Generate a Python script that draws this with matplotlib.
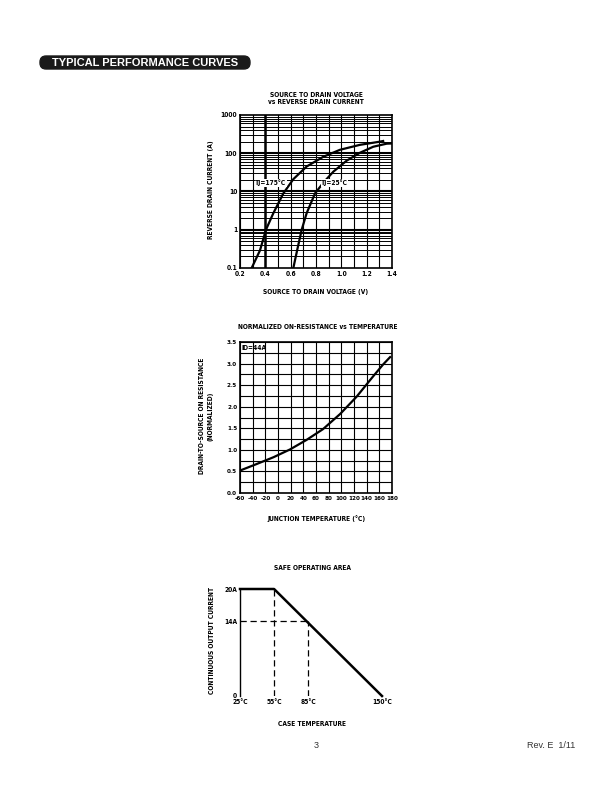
import matplotlib
matplotlib.use("Agg")
import matplotlib.pyplot as plt
from matplotlib.patches import FancyBboxPatch
import numpy as np

# ---------------- data ----------------
# Chart 1: source-to-drain voltage vs reverse drain current
v_175 = [0.292, 0.358, 0.405, 0.463, 0.542, 0.621, 0.726, 0.858, 0.989, 1.147, 1.305, 1.33]
i_175 = [0.1, 0.29, 1.0, 2.7, 8.9, 21, 45, 81, 123, 166, 201, 209]
v_25 = [0.621, 0.652, 0.687, 0.726, 0.792, 0.858, 0.937, 1.042, 1.147, 1.252, 1.358, 1.4]
i_25 = [0.1, 0.3, 1.0, 2.7, 8.9, 17, 33, 64, 103, 148, 178, 180]
c1_xticks = [0.2, 0.4, 0.6, 0.8, 1.0, 1.2, 1.4]
c1_xlabels = ["0.2", "0.4", "0.6", "0.8", "1.0", "1.2", "1.4"]
c1_yticks = [0.1, 1, 10, 100, 1000]
c1_ylabels = ["0.1", "1", "10", "100", "1000"]

# Chart 2: normalized on-resistance vs temperature
temp2 = [-60, -34, -7, 19, 45, 71, 98, 124, 150, 166, 177]
res2 = [0.52, 0.67, 0.83, 1.01, 1.23, 1.48, 1.83, 2.23, 2.70, 2.98, 3.15]
c2_xticks = [-60, -40, -20, 0, 20, 40, 60, 80, 100, 120, 140, 160, 180]
c2_yticks = [0.0, 0.5, 1.0, 1.5, 2.0, 2.5, 3.0, 3.5]

# Chart 3: safe operating area
temp3 = [25, 55, 150]
curr3 = [20, 20, 0]
c3_xticks = [25, 55, 85, 150]
c3_xlabels = ["25°C", "55°C", "85°C", "150°C"]
c3_yticks = [0, 14, 20]
c3_ylabels = ["0", "14A", "20A"]
knee_t = 85
knee_i = 14

W, H = 612, 792
fig = plt.figure(figsize=(W / 100, H / 100), dpi=100)
fig.patch.set_facecolor("white")

FONT = "DejaVu Sans"
STRETCH = "condensed"
fs = 4.8


def ax_rect(l, t, r, b):
    return [l / W, (H - b) / H, (r - l) / W, (b - t) / H]


def ftext(x, y, s, **kw):
    kw.setdefault("fontsize", fs)
    kw.setdefault("fontweight", "bold")
    kw.setdefault("family", FONT)
    kw.setdefault("fontstretch", STRETCH)
    kw.setdefault("ha", "center")
    kw.setdefault("va", "center")
    fig.text(x / W, 1 - y / H, s, **kw)


def style_ticks(ax, size):
    ax.tick_params(length=0, labelsize=size, pad=2)
    for lab in ax.get_xticklabels() + ax.get_yticklabels():
        lab.set_fontweight("bold")
        lab.set_fontstretch(STRETCH)
        lab.set_family(FONT)


# ---------------- header ----------------
box = FancyBboxPatch((40 / W, 1 - 69 / H), 210 / W, 13 / H,
                     boxstyle="round,pad=0.0,rounding_size=0.01",
                     transform=fig.transFigure, facecolor="#1a1a1a",
                     edgecolor="#1a1a1a", mutation_aspect=W / H)
fig.patches.append(box)
fig.text(145 / W, 1 - 62.5 / H, "TYPICAL PERFORMANCE CURVES", color="white",
         fontsize=8, fontweight="bold", family="Liberation Sans",
         ha="center", va="center")

# ---------------- chart 1 ----------------
ax1 = fig.add_axes(ax_rect(240, 115, 392, 268))
ax1.set_yscale("log")
ax1.set_xlim(0.2, 1.4)
ax1.set_ylim(0.1, 1000)
for x in np.arange(0.2, 1.41, 0.1):
    ax1.axvline(x, color="black", lw=0.8, zorder=1)
ax1.axvline(0.4, color="black", lw=1.8, zorder=1)
for dec in [0.1, 1, 10, 100]:
    for m in range(2, 10):
        ax1.axhline(dec * m, color="black", lw=0.7, zorder=1)
for dec in [1, 10, 100]:
    ax1.axhline(dec, color="black", lw=1.5, zorder=1)
ax1.plot(v_175, i_175, color="black", lw=1.6, zorder=3, solid_joinstyle="round")
ax1.plot(v_25, i_25, color="black", lw=1.6, zorder=3, solid_joinstyle="round")
ax1.text(0.32, 17, "TJ=175°C", fontsize=fs, fontweight="bold", family=FONT,
         fontstretch=STRETCH, va="center", ha="left", zorder=4,
         bbox=dict(facecolor="white", edgecolor="none", pad=0.3))
ax1.text(0.84, 17, "TJ=25°C", fontsize=fs, fontweight="bold", family=FONT,
         fontstretch=STRETCH, va="center", ha="left", zorder=4,
         bbox=dict(facecolor="white", edgecolor="none", pad=0.3))
ax1.set_xticks(c1_xticks)
ax1.set_xticklabels(c1_xlabels)
ax1.set_yticks(c1_yticks)
ax1.set_yticklabels(c1_ylabels)
ax1.yaxis.set_minor_locator(matplotlib.ticker.NullLocator())
style_ticks(ax1, fs)
for s in ax1.spines.values():
    s.set_linewidth(1.2)
ftext(316, 95, "SOURCE TO DRAIN VOLTAGE")
ftext(316, 102, "vs REVERSE DRAIN CURRENT")
ftext(211, 190, "REVERSE DRAIN CURRENT (A)", rotation=90)
ftext(316, 292, "SOURCE TO DRAIN VOLTAGE (V)")

# ---------------- chart 2 ----------------
ax2 = fig.add_axes(ax_rect(240, 342, 392, 493))
ax2.set_xlim(-60, 180)
ax2.set_ylim(0, 3.5)
for x in c2_xticks:
    ax2.axvline(x, color="black", lw=0.8, zorder=1)
for y in np.arange(0, 3.51, 0.25):
    ax2.axhline(y, color="black", lw=0.8, zorder=1)
ax2.plot(temp2, res2, color="black", lw=1.6, zorder=3, solid_joinstyle="round")
ax2.text(-57, 3.37, "ID=44A", fontsize=fs, fontweight="bold", family=FONT,
         fontstretch=STRETCH, va="center", ha="left", zorder=4)
ax2.set_xticks(c2_xticks)
ax2.set_xticklabels([str(t) for t in c2_xticks])
ax2.set_yticks(c2_yticks)
ax2.set_yticklabels([f"{v:.1f}" for v in c2_yticks])
style_ticks(ax2, fs - 0.3)
for s in ax2.spines.values():
    s.set_linewidth(1.2)
ftext(318, 327, "NORMALIZED ON-RESISTANCE vs TEMPERATURE")
ftext(202, 416, "DRAIN-TO-SOURCE ON RESISTANCE", rotation=90)
ftext(211, 416, "(NORMALIZED)", rotation=90)
ftext(316, 519, "JUNCTION TEMPERATURE (°C)")

# ---------------- chart 3 ----------------
ax3 = fig.add_axes(ax_rect(240, 589, 382, 696))
ax3.set_xlim(25, 150)
ax3.set_ylim(0, 20)
ax3.plot(temp3, curr3, color="black", lw=1.8, zorder=3, clip_on=False)
ax3.plot([55, 55], [0, 20], color="black", lw=0.9, ls=(0, (5, 3)), zorder=2)
ax3.plot([knee_t, knee_t], [0, knee_i], color="black", lw=0.9, ls=(0, (5, 3)), zorder=2)
ax3.plot([25, knee_t], [knee_i, knee_i], color="black", lw=0.9, ls=(0, (5, 3)), zorder=2)
for k in ["top", "right", "bottom"]:
    ax3.spines[k].set_visible(False)
ax3.spines["left"].set_linewidth(1.0)
ax3.set_xticks(c3_xticks)
ax3.set_xticklabels(c3_xlabels)
ax3.set_yticks(c3_yticks)
ax3.set_yticklabels(c3_ylabels)
style_ticks(ax3, fs)
ftext(312, 568, "SAFE OPERATING AREA")
ftext(212, 640, "CONTINUOUS OUTPUT CURRENT", rotation=90)
ftext(312, 724, "CASE TEMPERATURE")

# ---------------- footer ----------------
fig.text(316 / W, 1 - 745 / H, "3", fontsize=6.5, family="Liberation Sans",
         ha="center", va="center", color="#333333")
fig.text(575 / W, 1 - 745 / H, "Rev. E  1/11", fontsize=6.5, family="Liberation Sans",
         ha="right", va="center", color="#333333")

fig.savefig("out.png", dpi=100)
